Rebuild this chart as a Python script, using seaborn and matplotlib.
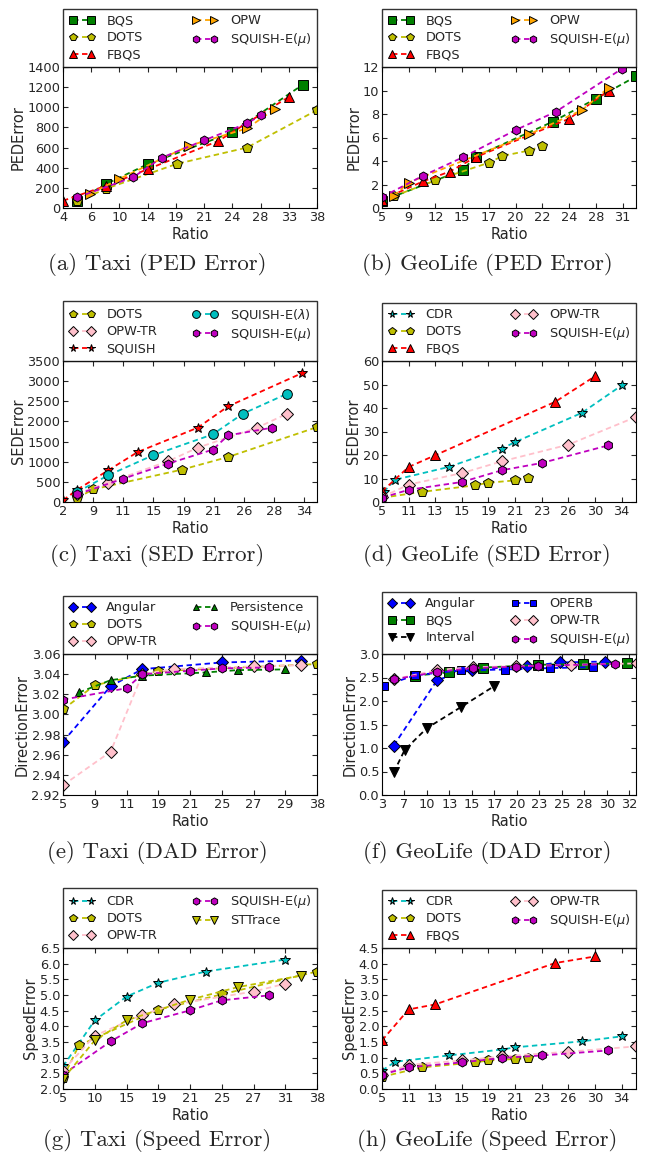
import numpy as np
import pandas as pd
import matplotlib
matplotlib.use("Agg")
import matplotlib.pyplot as plt
import seaborn as sns

# x values are positions on the axis in tick slots (ticks are evenly spaced
# but labelled with uneven ratios), y values

# (a) Taxi PED
taxi_ped_ticks = [4, 6, 10, 14, 19, 21, 24, 28, 33, 38]
taxi_ped = {
    "BQS": ([0.5, 1.52, 3.0, 6.0, 8.5], [72, 237, 435, 751, 1225]),
    "DOTS": ([0.5, 1.52, 4.03, 6.52, 9.0], [66, 191, 438, 600, 972]),
    "FBQS": ([0.0, 1.52, 3.0, 5.5, 8.0], [72, 220, 385, 665, 1103]),
    "OPW": ([0.95, 1.98, 4.48, 6.52, 7.5], [138, 287, 619, 790, 982]),
    "SQUISH-E($\\mu$)": ([0.5, 2.49, 3.5, 5.0, 6.52, 7.0], [105, 306, 500, 672, 840, 919]),
}

# (b) GeoLife PED
geo_ped_ticks = [5, 9, 12, 15, 17, 20, 22, 24, 28, 31]
geo_ped = {
    "BQS": ([0.0, 3.03, 3.5, 6.38, 8.0, 9.5], [0.6, 3.25, 4.38, 7.34, 9.3, 11.2]),
    "DOTS": ([0.44, 2.0, 4.02, 4.5, 5.5, 6.0], [1.0, 2.35, 3.87, 4.43, 4.89, 5.28]),
    "FBQS": ([0.0, 1.53, 2.53, 3.5, 7.0, 8.48], [0.7, 2.26, 3.1, 4.32, 7.6, 10.0]),
    "OPW": ([0.44, 1.0, 5.5, 7.48, 8.48], [1.05, 2.17, 6.27, 8.33, 10.25]),
    "SQUISH-E($\\mu$)": ([0.0, 1.53, 3.03, 5.0, 6.5, 8.98], [0.93, 2.74, 4.32, 6.64, 8.19, 11.86]),
}

# (c) Taxi SED
taxi_sed_ticks = [2, 9, 11, 15, 19, 21, 26, 28, 34]
taxi_sed = {
    "DOTS": ([0.47, 1.0, 3.94, 5.48, 8.44], [99, 314, 802, 1117, 1861]),
    "OPW-TR": ([0.47, 1.5, 3.5, 4.47, 6.44, 7.44], [207, 480, 1017, 1348, 1844, 2192]),
    "SQUISH": ([0.0, 0.47, 1.5, 2.48, 4.47, 5.48, 7.94], [41, 306, 786, 1241, 1844, 2374, 3201]),
    "SQUISH-E($\\lambda$)": ([0.47, 1.5, 2.98, 4.97, 5.97, 7.44], [248, 662, 1158, 1679, 2192, 2688]),
    "SQUISH-E($\\mu$)": ([0.47, 2.0, 3.48, 4.97, 5.48, 6.94], [190, 579, 951, 1299, 1654, 1844]),
}

# (d) GeoLife SED
geo_sed_ticks = [5, 11, 13, 15, 19, 21, 23, 26, 30, 34]
geo_sed = {
    "CDR": ([0.06, 0.5, 2.5, 4.5, 5.0, 7.5, 9.0], [4.3, 9.5, 14.9, 22.7, 25.5, 37.9, 49.6]),
    "DOTS": ([0.0, 1.5, 3.5, 4.0, 5.0, 5.5], [1.8, 4.3, 7.1, 8.2, 9.2, 10.2]),
    "FBQS": ([0.0, 1.0, 2.0, 6.5, 8.0], [4.5, 14.9, 19.9, 42.6, 53.5]),
    "OPW-TR": ([0.0, 1.0, 3.0, 4.5, 7.0, 9.54], [2.1, 7.4, 12.3, 17.3, 24.4, 36.2]),
    "SQUISH-E($\\mu$)": ([0.0, 1.0, 3.0, 4.5, 6.0, 8.5], [1.8, 5.2, 8.5, 13.5, 16.6, 24.1]),
}

# (e) Taxi DAD
taxi_dad_ticks = [5, 9, 11, 19, 21, 25, 27, 29, 38]
taxi_dad = {
    "Angular": ([0.0, 1.5, 2.5, 5.0, 7.5], [2.973, 3.028, 3.045, 3.0516, 3.0535]),
    "DOTS": ([0.0, 1.0, 3.0, 8.0], [3.005, 3.029, 3.043, 3.050]),
    "OPW-TR": ([0.0, 1.5, 2.5, 3.5, 6.0, 7.5], [2.9297, 2.963, 3.040, 3.045, 3.0477, 3.049]),
    "Persistence": ([0.5, 1.5, 2.5, 4.5, 5.5, 7.0], [3.0218, 3.034, 3.0385, 3.0417, 3.044, 3.0447]),
    "SQUISH-E($\\mu$)": ([0.0, 2.0, 2.5, 4.0, 5.0, 6.5], [3.0147, 3.026, 3.040, 3.0434, 3.0457, 3.0467]),
}

# (f) GeoLife DAD
geo_dad_ticks = [3, 7, 10, 13, 15, 17, 20, 23, 25, 28, 30, 32]
geo_dad = {
    "Angular": ([0.52, 2.46, 4.02, 6.45, 7.94, 9.91], [1.05, 2.45, 2.67, 2.74, 2.82, 2.84]),
    "BQS": ([1.49, 2.99, 4.48, 6.94, 8.96, 10.9], [2.54, 2.61, 2.71, 2.77, 2.79, 2.80]),
    "Interval": ([0.52, 1.01, 1.99, 3.51, 4.97], [0.48, 0.96, 1.42, 1.87, 2.31]),
    "OPERB": ([0.07, 1.49, 3.51, 5.45, 7.46, 9.4], [2.32, 2.55, 2.65, 2.67, 2.70, 2.72]),
    "OPW-TR": ([0.52, 2.46, 4.03, 5.97, 8.43, 11.35], [2.46, 2.66, 2.72, 2.74, 2.77, 2.80]),
    "SQUISH-E($\\mu$)": ([0.52, 2.46, 4.03, 5.97, 6.94, 10.37], [2.46, 2.62, 2.70, 2.73, 2.75, 2.79]),
}

# (g) Taxi speed
taxi_spd_ticks = [5, 10, 15, 19, 21, 25, 27, 31, 38]
taxi_spd = {
    "CDR": ([0.0, 1.0, 2.0, 3.0, 4.5, 7.0], [2.72, 4.19, 4.95, 5.39, 5.75, 6.13]),
    "DOTS": ([0.0, 0.5, 3.0, 5.0, 8.0], [2.35, 3.39, 4.53, 5.02, 5.75]),
    "OPW-TR": ([0.0, 1.0, 2.5, 3.5, 6.0, 7.0], [2.59, 3.7, 4.37, 4.70, 5.11, 5.36]),
    "SQUISH-E($\\mu$)": ([0.0, 1.5, 2.5, 4.0, 5.0, 6.5], [2.46, 3.52, 4.10, 4.51, 4.83, 4.99]),
    "STTrace": ([0.0, 1.0, 2.0, 4.0, 5.5, 7.5], [2.32, 3.55, 4.19, 4.85, 5.25, 5.62]),
}

# (h) GeoLife speed
geo_spd_ticks = [5, 11, 13, 15, 19, 21, 23, 26, 30, 34]
geo_spd = {
    "CDR": ([0.0, 0.5, 2.5, 4.5, 5.0, 7.5, 9.0], [0.59, 0.87, 1.07, 1.26, 1.33, 1.52, 1.68]),
    "DOTS": ([0.0, 1.5, 3.5, 4.0, 5.0, 5.5], [0.39, 0.69, 0.85, 0.91, 0.96, 0.98]),
    "FBQS": ([0.0, 1.0, 2.0, 6.5, 8.0], [1.55, 2.54, 2.70, 4.02, 4.23]),
    "OPW-TR": ([0.0, 1.0, 3.0, 4.5, 7.0, 9.54], [0.46, 0.77, 0.91, 1.04, 1.19, 1.36]),
    "SQUISH-E($\\mu$)": ([0.0, 1.0, 3.0, 4.5, 6.0, 8.5], [0.46, 0.69, 0.85, 0.99, 1.07, 1.23]),
}

# colour, marker, size
STYLE = {
    "BQS": ("#008000", "s", 6.5),
    "DOTS": ("#bfbf00", "p", 7),
    "FBQS": ("#ff0000", "^", 7),
    "OPW": ("#ffa500", ">", 7),
    "SQUISH-E($\\mu$)": ("#bf00bf", "h", 6.5),
    "OPW-TR": ("#ffc0cb", "D", 6.5),
    "SQUISH": ("#ff0000", "*", 7),
    "SQUISH-E($\\lambda$)": ("#00bfbf", "o", 7),
    "CDR": ("#00bfbf", "*", 7),
    "Angular": ("#0000ff", "D", 6.5),
    "Persistence": ("#008000", "^", 6),
    "OPERB": ("#0000ff", "s", 6),
    "Interval": ("#000000", "v", 7),
    "STTrace": ("#bfbf00", "v", 7),
}

PANELS = [
    (taxi_ped, taxi_ped_ticks, 9.0, (0, 1400, 200), "%d", "PEDError", "(a) Taxi (PED Error)"),
    (geo_ped, geo_ped_ticks, 9.5, (0, 12, 2), "%d", "PEDError", "(b) GeoLife (PED Error)"),
    (taxi_sed, taxi_sed_ticks, 8.43, (0, 3500, 500), "%d", "SEDError", "(c) Taxi (SED Error)"),
    (geo_sed, geo_sed_ticks, 9.54, (0, 60, 10), "%d", "SEDError", "(d) GeoLife (SED Error)"),
    (taxi_dad, taxi_dad_ticks, 8.0, (2.92, 3.06, 0.02), "%.2f", "DirectionError", "(e) Taxi (DAD Error)"),
    (geo_dad, geo_dad_ticks, 11.3, (0, 3.0, 0.5), "%.1f", "DirectionError", "(f) GeoLife (DAD Error)"),
    (taxi_spd, taxi_spd_ticks, 8.0, (2.0, 6.5, 0.5), "%.1f", "SpeedError", "(g) Taxi (Speed Error)"),
    (geo_spd, geo_spd_ticks, 9.54, (0, 4.5, 0.5), "%.1f", "SpeedError", "(h) GeoLife (Speed Error)"),
]

sns.set_style("ticks", {
    "xtick.direction": "in", "ytick.direction": "in",
    "xtick.top": True, "ytick.right": True,
    "axes.edgecolor": "black", "axes.linewidth": 1.0,
})
plt.rcParams["font.family"] = ["DejaVu Sans"]
plt.rcParams["xtick.major.size"] = 3.5
plt.rcParams["ytick.major.size"] = 3.5

W, H = 647, 1163
fig = plt.figure(figsize=(W / 100, H / 100), dpi=100)

col_left = [63, 382]
row_top = [67, 361, 654, 948]
ax_w, ax_h = 254, 141
cap_x = [157, 487]
cap_y = [265, 556, 852, 1140]

for i, (series, ticks, xmax, ylim, yfmt, ylabel, caption) in enumerate(PANELS):
    r, c = divmod(i, 2)
    ax = fig.add_axes([col_left[c] / W, 1 - (row_top[r] + ax_h) / H, ax_w / W, ax_h / H])
    for name, (xs, ys) in series.items():
        color, marker, ms = STYLE[name]
        sns.lineplot(x=xs, y=ys, ax=ax, color=color, marker=marker, markersize=ms,
                     markeredgecolor="black", markeredgewidth=0.7,
                     linestyle=(0, (3, 2)), linewidth=1.3, label=name)
    ax.set_xlim(0, xmax)
    lo, hi, step = ylim
    yt = np.arange(lo, hi + step / 2, step)
    ax.set_ylim(lo, hi)
    ax.set_yticks(yt)
    ax.set_yticklabels([yfmt % v for v in yt])
    ax.set_xticks(range(len(ticks)))
    ax.set_xticklabels([str(t) for t in ticks])
    ax.tick_params(labelsize=9.3, width=0.8, pad=2)
    ax.set_xlabel("Ratio", fontsize=10.5, labelpad=2)
    ax.set_ylabel(ylabel, fontsize=10.5, labelpad=1)
    leg = ax.legend(loc="lower left", bbox_to_anchor=(0, 1, 1, 64 / 141), mode="expand",
                    ncol=2, borderaxespad=0, fontsize=9.3, numpoints=2, handlelength=2.0,
                    handletextpad=0.9, labelspacing=0.3, borderpad=0.45, markerscale=0.8,
                    fancybox=False, frameon=True)
    leg.get_frame().set_edgecolor("black")
    leg.get_frame().set_linewidth(1.0)
    fig.text(cap_x[c] / W, 1 - cap_y[r] / H, caption, ha="center", va="center",
             fontsize=16.5, family="cmr10")

fig.savefig("out.png", dpi=100)
